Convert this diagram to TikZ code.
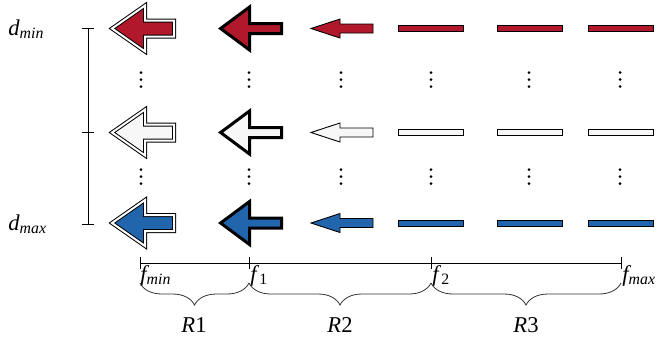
\documentclass[tikz,border=0pt]{standalone}
\usepackage{fontspec}
\setmainfont{Liberation Serif}[ItalicFont={Liberation Serif Italic}]
\usetikzlibrary{decorations.pathreplacing}
\definecolor{rdred}{HTML}{B2182B}
\definecolor{rdwhite}{HTML}{F7F7F7}
\definecolor{rdblue}{HTML}{2166AC}
\begin{document}
\begin{tikzpicture}[x=0.5pt,y=-0.5pt,
  font=\fontsize{11.3}{13.5}\selectfont,
  thinline/.style={line width=0.45pt, draw=black},
  lbl/.style={inner sep=0pt, anchor=base west},
  rlbl/.style={inner sep=0pt, anchor=base},
  arrowdouble/.style={draw=black, line width=0.5pt, double=white, double distance=1pt, line join=miter},
  arrowthick/.style={draw=black, line width=1.5pt, line join=miter},
  arrowthin/.style={draw=black, line width=0.45pt, line join=miter},
  bracestyle/.style={decorate, decoration={brace, mirror, amplitude=11pt}, line width=0.4pt, draw=black!80},
  dotmark/.style={fill=black}]
\useasboundingbox (0,0) rectangle (663,345);

% rows of arrows and bars
\foreach \yy/\cc in {28.5/rdred, 132.5/rdwhite, 223/rdblue}{
  \path[arrowdouble, fill=\cc] (112,\yy) -- (145,\yy-23) -- (145,\yy-8) -- (174,\yy-8)
     -- (174,\yy+8) -- (145,\yy+8) -- (145,\yy+23) -- cycle;
  \path[arrowthick, fill=\cc] (220.6,\yy) -- (249.5,\yy-21.5) -- (249.5,\yy-5) -- (281.5,\yy-5)
     -- (281.5,\yy+5) -- (249.5,\yy+5) -- (249.5,\yy+21.5) -- cycle;
  \path[arrowthin, fill=\cc] (311,\yy) -- (340,\yy-9.5) -- (340,\yy-4.5) -- (373,\yy-4.5)
     -- (373,\yy+4.5) -- (340,\yy+4.5) -- (340,\yy+9.5) -- cycle;
  \foreach \xa in {398,497,588}{
    \path[arrowthin, fill=\cc] (\xa,\yy-3) rectangle (\xa+65,\yy+3);
  }
}

% vertical dots
\foreach \xd in {141,249,341,431,529,620}{
  \foreach \yd in {79.5,176.5}{
    \foreach \k in {-7,0,7}{
      \fill[dotmark] (\xd,\yd+\k) circle (0.75pt);
    }
  }
}

% vertical scale
\coordinate (vtop) at (88,28);
\coordinate (vmid) at (88,132);
\coordinate (vbot) at (88,224);
\draw[thinline] (vtop) -- (vbot);
\foreach \c in {vtop,vmid,vbot}{
  \draw[thinline] ([xshift=-3pt]\c) -- ([xshift=3pt]\c);
}
\node[lbl] (dmin) at (8,35) {\itshape d\textsubscript{min}};
\node[lbl] (dmax) at (8,230) {\itshape d\textsubscript{max}};

% horizontal axis
\coordinate (a0) at (140,263);
\coordinate (a1) at (249,263);
\coordinate (a2) at (431,263);
\coordinate (a3) at (621,263);
\draw[thinline] (a0) -- (a3);
\foreach \c in {a0,a1,a2,a3}{
  \draw[thinline] ([yshift=3pt]\c) -- ([yshift=-3pt]\c);
}
\node[lbl] (fmin) at (140,281) {\itshape f\textsubscript{min}};
\node[lbl] (fone) at (250,281) {\textit{f}\textsubscript{1}};
\node[lbl] (ftwo) at (432,281) {\textit{f}\textsubscript{2}};
\node[lbl] (fmax) at (622,281) {\itshape f\textsubscript{max}};

% braces
\coordinate (b0) at (140,283);
\coordinate (b1) at (249,283);
\coordinate (b2) at (431,283);
\coordinate (b3) at (621,283);
\draw[bracestyle] (b0) -- (b1);
\draw[bracestyle] (b1) -- (b2);
\draw[bracestyle] (b2) -- (b3);
\node[rlbl] (r1) at (194,332) {\textit{R}1};
\node[rlbl] (r2) at (340,332) {\textit{R}2};
\node[rlbl] (r3) at (526,332) {\textit{R}3};
\end{tikzpicture}
\end{document}
